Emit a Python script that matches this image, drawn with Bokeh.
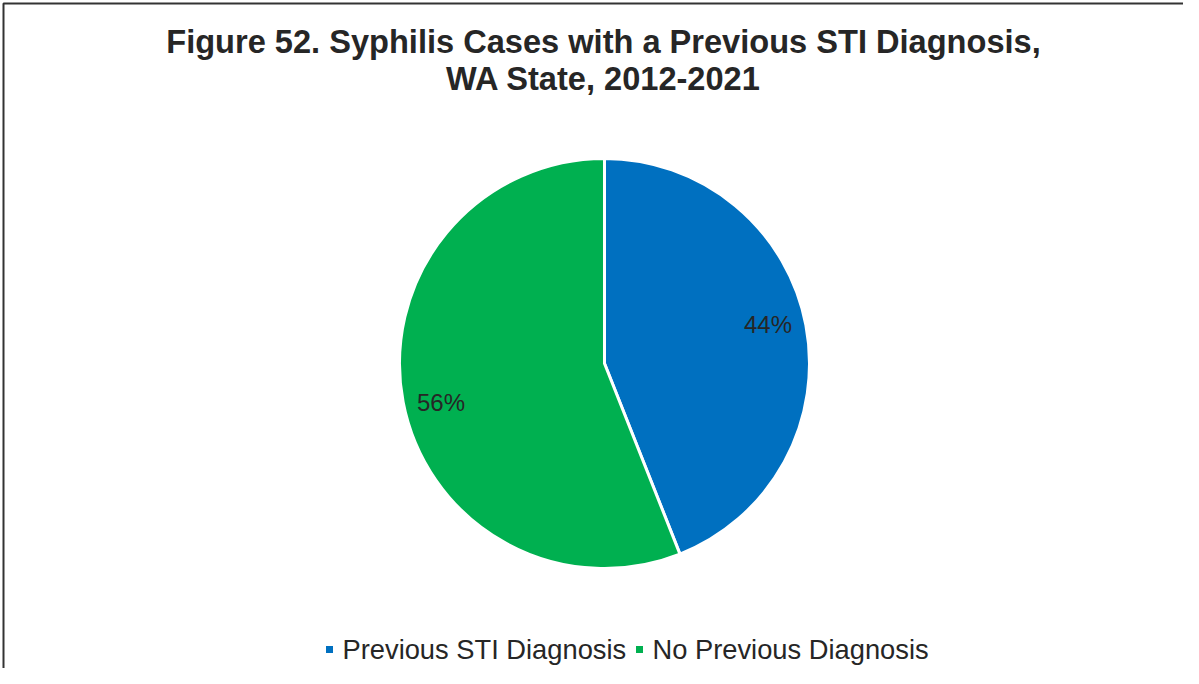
import math
from bokeh.plotting import figure
from bokeh.models import Range1d, ColumnDataSource
from bokeh.core.properties import value
from bokeh.embed import file_html
from bokeh.resources import INLINE

# ---- data ----
title_lines = ["Figure 52. Syphilis Cases with a Previous STI Diagnosis,",
               "WA State, 2012-2021"]
categories = ["Previous STI Diagnosis", "No Previous Diagnosis"]
shares = [44, 56]
colors = ["#0070C0", "#00B050"]
pct_labels = ["44%", "56%"]

# ---- layout constants ----
W, H = 1183, 668
CX, CY, R = 604, 305, 205
LABEL_R, LABEL_ROT = 168, 2.5
FONT = value("Liberation Sans")
TXT = "#262626"

p = figure(width=W, height=H, x_range=Range1d(0, W), y_range=Range1d(0, H),
           output_backend="svg", toolbar_location=None, min_border=0)
p.axis.visible = False
p.grid.visible = False
p.outline_line_color = None
p.background_fill_color = "white"
p.border_fill_color = "white"

# chart frame (left and top edges)
p.line(x=[3, 3, W + 5], y=[-5, H - 3, H - 3], line_color="#333333",
       line_width=2)

# pie wedges (clockwise from 12 o'clock)
total = sum(shares)
starts, ends, lx, ly = [], [], [], []
cum = 0
for s in shares:
    a_end = 90 - cum / total * 360
    cum += s
    a_start = 90 - cum / total * 360
    starts.append(math.radians(a_start))
    ends.append(math.radians(a_end))
    mid = math.radians((a_start + a_end) / 2 + LABEL_ROT)
    lx.append(CX + LABEL_R * math.cos(mid))
    ly.append(CY + LABEL_R * math.sin(mid))

src = ColumnDataSource(dict(start=starts, end=ends, color=colors,
                            lx=lx, ly=ly, lab=pct_labels, cat=categories))
p.wedge(x=CX, y=CY, radius=R, start_angle="start", end_angle="end",
        fill_color="color", line_color="white", line_width=3, source=src)
p.text(x="lx", y="ly", text="lab", source=src, text_align="center",
       text_baseline="middle", text_font=FONT, text_font_size="24px",
       text_color=TXT)

# title
p.text(x=[603, 603], y=[627.5, 590], text=title_lines, text_align="center",
       text_baseline="middle", text_font=FONT, text_font_size="32.6px",
       text_font_style="bold", text_color=TXT)

# legend
leg_sq_x = [329, 639]
leg_y = 19
p.scatter(x=leg_sq_x, y=[leg_y] * 2, marker="square", size=7,
          fill_color=colors, line_color=None)
p.text(x=[x + 13 for x in leg_sq_x], y=[leg_y + 0.5] * 2, text=categories,
       text_align="left", text_baseline="middle", text_font=FONT,
       text_font_size="27.3px", text_color=TXT)

open("out.html", "w").write(file_html(p, INLINE))
